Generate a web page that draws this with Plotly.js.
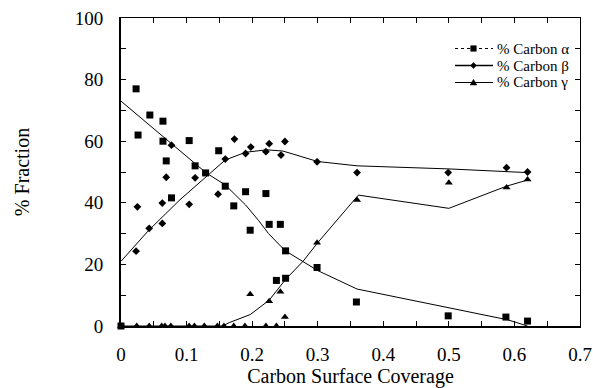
<!DOCTYPE html>
<html>
<head>
<meta charset="utf-8">
<script src="https://cdn.plot.ly/plotly-3.0.1.min.js"></script>
<style>html,body{margin:0;padding:0;background:#fff;}#chart{width:593px;height:388px;}</style>
</head>
<body>
<div id="chart"></div>
<script>
// ----- measured points -----
var alphaX = [0, 0.023, 0.026, 0.044, 0.064, 0.064, 0.069, 0.077, 0.104, 0.113, 0.129, 0.149, 0.159, 0.172, 0.19, 0.197, 0.221, 0.226, 0.243, 0.251, 0.237, 0.251, 0.299, 0.359, 0.499, 0.587, 0.62];
var alphaY = [0, 77, 62, 68.5, 66.5, 60, 53.6, 41.6, 60.2, 52, 49.7, 56.9, 45.4, 39, 43.6, 31.1, 43, 33, 33, 24.4, 14.8, 15.5, 19, 7.8, 3.3, 2.9, 1.6];

var betaX = [0.023, 0.025, 0.043, 0.063, 0.063, 0.069, 0.077, 0.104, 0.113, 0.148, 0.159, 0.173, 0.19, 0.198, 0.221, 0.226, 0.244, 0.25, 0.299, 0.36, 0.499, 0.588, 0.62];
var betaY = [24.3, 38.7, 31.7, 39.9, 33.3, 48.3, 58.7, 39.5, 48.1, 42.8, 54.2, 60.7, 56, 58.1, 56.6, 59.2, 55.5, 59.9, 53.3, 49.8, 49.8, 51.4, 50];

var gammaX = [0, 0.024, 0.043, 0.062, 0.067, 0.076, 0.104, 0.112, 0.127, 0.147, 0.157, 0.172, 0.189, 0.221, 0.237, 0.197, 0.226, 0.243, 0.25, 0.299, 0.36, 0.5, 0.588, 0.62];
var gammaY = [0, 0, 0, 0, 0, 0, 0, 0, 0, 0, 0, 0, 0, 0, 0, 10.3, 8, 11.1, 2.9, 27, 40.9, 46.5, 45, 47.6];

// ----- fitted curves -----
var alphaFitX = [0, 0.09, 0.13, 0.159, 0.19, 0.21, 0.225, 0.25, 0.278, 0.3, 0.36, 0.5, 0.59, 0.62];
var alphaFitY = [73, 57, 49.7, 45.8, 39.3, 34.2, 30, 24.5, 20.9, 18, 12, 6, 2, 0];

var betaFitX = [0, 0.042, 0.09, 0.125, 0.159, 0.19, 0.222, 0.247, 0.3, 0.36, 0.5, 0.62];
var betaFitY = [21, 31, 41, 47.4, 53.9, 56.4, 57.2, 56.8, 53.4, 52, 51, 49.8];

var gammaFitX = [0, 0.155, 0.165, 0.197, 0.226, 0.251, 0.278, 0.299, 0.362, 0.5, 0.588, 0.62];
var gammaFitY = [0, 0, 1.1, 3.7, 8.4, 15.1, 21.1, 26.8, 42.5, 38.2, 45.4, 47.4];

var seriesNames = ['% Carbon \u03B1', '% Carbon \u03B2', '% Carbon \u03B3'];
var xTickVals = [0, 0.1, 0.2, 0.3, 0.4, 0.5, 0.6, 0.7];
var xTickText = ['0', '0.1', '0.2', '0.3', '0.4', '0.5', '0.6', '0.7'];
var yTickVals = [0, 20, 40, 60, 80, 100];

var FONT = 'Liberation Serif';
var BLK = '#000';

var W = 593, H = 388;
var M = {l: 121, r: 13, t: 18, b: 62};
var PW = W - M.l - M.r, PH = H - M.t - M.b;
function px(xp) { return (xp - M.l) / PW; }      // pixel -> paper x
function py(yp) { return (H - M.b - yp) / PH; }   // pixel -> paper y

var traces = [
  {x: alphaFitX, y: alphaFitY, mode: 'lines', line: {color: BLK, width: 1}, hoverinfo: 'skip'},
  {x: betaFitX, y: betaFitY, mode: 'lines', line: {color: BLK, width: 1}, hoverinfo: 'skip'},
  {x: gammaFitX, y: gammaFitY, mode: 'lines', line: {color: BLK, width: 1}, hoverinfo: 'skip'},
  {x: alphaX, y: alphaY, name: seriesNames[0], mode: 'markers', marker: {symbol: 'square', size: 7, color: BLK}, cliponaxis: false},
  {x: betaX, y: betaY, name: seriesNames[1], mode: 'markers', marker: {symbol: 'diamond', size: 6, color: BLK}, cliponaxis: false},
  {x: gammaX, y: gammaY, name: seriesNames[2], mode: 'markers', marker: {symbol: 'triangle-up', size: 7, color: BLK}, cliponaxis: false}
];
// dummy trace to activate mirrored axes
traces.push({x: [null], y: [null], xaxis: 'x2', yaxis: 'y2', hoverinfo: 'skip', mode: 'markers'});

// ----- hand-drawn legend -----
var legRows = [48.5, 65.5, 82.5];
var legDash = ['dot', 'solid', 'solid'];
var legWidth = [1, 1.5, 1];
var shapes = [];
var annotations = [];
var mx = 473.5;
function sqPath(cx, cy, h) {
  return 'M' + px(cx - h) + ',' + py(cy - h) + 'L' + px(cx + h) + ',' + py(cy - h) +
         'L' + px(cx + h) + ',' + py(cy + h) + 'L' + px(cx - h) + ',' + py(cy + h) + 'Z';
}
function diaPath(cx, cy, h) {
  return 'M' + px(cx) + ',' + py(cy - h) + 'L' + px(cx + h) + ',' + py(cy) +
         'L' + px(cx) + ',' + py(cy + h) + 'L' + px(cx - h) + ',' + py(cy) + 'Z';
}
function triPath(cx, cy, h) {
  return 'M' + px(cx - h) + ',' + py(cy + h * 0.75) + 'L' + px(cx + h) + ',' + py(cy + h * 0.75) +
         'L' + px(cx) + ',' + py(cy - h * 0.95) + 'Z';
}
var legPaths = [sqPath(mx, legRows[0], 2.8), diaPath(mx, legRows[1], 3), triPath(mx, legRows[2], 3.3)];
for (var i = 0; i < 3; i++) {
  shapes.push({type: 'line', xref: 'paper', yref: 'paper', x0: px(455), x1: px(493), y0: py(legRows[i]), y1: py(legRows[i]),
               line: {color: BLK, width: legWidth[i], dash: legDash[i]}});
  shapes.push({type: 'path', xref: 'paper', yref: 'paper', path: legPaths[i], fillcolor: BLK, line: {color: BLK, width: 0.5}});
  annotations.push({xref: 'paper', yref: 'paper', x: px(496), y: py(legRows[i]), xanchor: 'left', yanchor: 'middle',
                    text: seriesNames[i], showarrow: false, borderpad: 0, font: {family: FONT, size: 15, color: BLK}});
}

var layout = {
  width: W, height: H,
  margin: M,
  paper_bgcolor: '#fff', plot_bgcolor: '#fff',
  font: {family: FONT, color: BLK, size: 18},
  showlegend: false,
  shapes: shapes,
  annotations: annotations,
  xaxis: {
    range: [0, 0.7], showgrid: false, zeroline: false,
    showline: true, linewidth: 2, linecolor: BLK,
    ticks: 'inside', ticklen: 5, tickwidth: 1, tickcolor: BLK,
    tickmode: 'array', tickvals: xTickVals, ticktext: xTickText,
    minor: {dtick: 0.05, ticks: 'inside', ticklen: 5, tickwidth: 1, tickcolor: BLK},
    tickfont: {family: FONT, size: 19, color: BLK},
    ticklabelstandoff: 10,
    title: {text: 'Carbon Surface Coverage', font: {family: FONT, size: 20, color: BLK}, standoff: 6}
  },
  yaxis: {
    range: [0, 100], showgrid: false, zeroline: false,
    showline: true, linewidth: 2, linecolor: BLK,
    ticks: 'inside', ticklen: 5, tickwidth: 1, tickcolor: BLK,
    tickmode: 'array', tickvals: yTickVals,
    minor: {dtick: 10, ticks: 'inside', ticklen: 5, tickwidth: 1, tickcolor: BLK},
    tickfont: {family: FONT, size: 19, color: BLK},
    ticklabelstandoff: 12,
    title: {text: '% Fraction', font: {family: FONT, size: 20, color: BLK}, standoff: 40}
  },
  xaxis2: {
    overlaying: 'x', matches: 'x', side: 'top', anchor: 'y', range: [0, 0.7],
    showgrid: false, zeroline: false, showline: true, linewidth: 1, linecolor: BLK,
    ticks: 'inside', ticklen: 5, tickcolor: BLK, dtick: 0.05, tick0: 0, showticklabels: false
  },
  yaxis2: {
    overlaying: 'y', side: 'right', anchor: 'x', range: [0, 100],
    showgrid: false, zeroline: false, showline: true, linewidth: 1, linecolor: BLK,
    ticks: 'inside', ticklen: 5, tickcolor: BLK, dtick: 10, tick0: 0, showticklabels: false
  }
};

Plotly.newPlot('chart', traces, layout, {staticPlot: true, displayModeBar: false});
</script>
</body>
</html>
